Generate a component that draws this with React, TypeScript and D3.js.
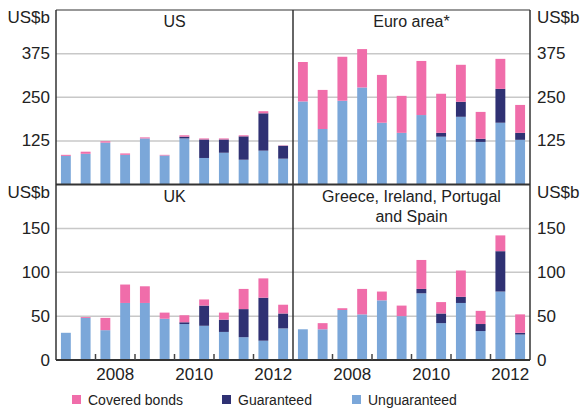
import React from "react"
import * as d3 from "d3"

// half-yearly periods, 2007 H1 to 2012 H2
const periods = [
	"2007 H1", "2007 H2", "2008 H1", "2008 H2", "2009 H1", "2009 H2",
	"2010 H1", "2010 H2", "2011 H1", "2011 H2", "2012 H1", "2012 H2",
]
const yearTicks = ["2008 H1", "2009 H1", "2010 H1", "2011 H1", "2012 H1"]
const yearLabels = ["2008", "2010", "2012"]

const seriesKeys = ["unguaranteed", "guaranteed", "covered"]
const legendKeys = ["covered", "guaranteed", "unguaranteed"]
const legendNames = ["Covered bonds", "Guaranteed", "Unguaranteed"]

// US$b
const usUnguaranteed = [82, 88, 120, 85, 132, 83, 132, 76, 91, 71, 97, 74]
const usGuaranteed = [0, 0, 0, 0, 0, 0, 5, 53, 38, 67, 107, 37]
const usCovered = [3, 6, 4, 4, 3, 2, 4, 3, 3, 3, 6, 1]

const euroUnguaranteed = [238, 159, 240, 278, 177, 148, 199, 137, 194, 122, 177, 128]
const euroGuaranteed = [0, 0, 0, 0, 0, 0, 0, 11, 43, 9, 97, 20]
const euroCovered = [113, 112, 126, 110, 137, 106, 155, 112, 106, 77, 86, 80]

const ukUnguaranteed = [31, 48, 34, 65, 65, 47, 41, 39, 32, 26, 22, 36]
const ukGuaranteed = [0, 0, 0, 0, 0, 0, 2, 23, 14, 32, 49, 17]
const ukCovered = [0, 1, 14, 21, 19, 7, 8, 7, 8, 23, 22, 10]

const gipsUnguaranteed = [35, 35, 57, 52, 68, 50, 76, 42, 65, 33, 78, 29]
const gipsGuaranteed = [0, 0, 0, 0, 0, 0, 5, 11, 7, 8, 46, 2]
const gipsCovered = [0, 7, 2, 29, 10, 12, 33, 13, 30, 15, 18, 21]

const topTicks = [125, 250, 375]
const bottomTicks = [0, 50, 100, 150]

const colours = {
	covered: "#f06daa",
	guaranteed: "#2f3173",
	unguaranteed: "#7ba7d9",
}

const FONT = "'Liberation Sans', Arial, sans-serif"
const W = 580
const H = 410
const xLeft = [56, 293]
const xRight = [293, 530]
const yTop = [10, 184.5]
const yBottom = [184.5, 360]

const toRows = (ung, gua, cov) =>
	periods.map((p, i) => ({ period: p, unguaranteed: ung[i], guaranteed: gua[i], covered: cov[i] }))

const Panel = ({ rows, xr, yr, max, ticks, title }) => {
	const x = d3.scaleBand().domain(periods).range(xr).paddingInner(0.5).paddingOuter(0.25)
	const y = d3.scaleLinear().domain([0, max]).range([yr[1], yr[0]])
	const stacked = d3.stack().keys(seriesKeys)(rows)
	return (
		<g>
			{ticks.filter(t => t > 0).map(t => (
				<line key={t} x1={xr[0]} x2={xr[1]} y1={y(t)} y2={y(t)} stroke="#c8c8c8" strokeWidth={1.5} />
			))}
			{stacked.map(s => (
				<g key={s.key} fill={colours[s.key]}>
					{s.map((d, i) => (
						<rect
							key={i}
							x={x(periods[i])}
							width={x.bandwidth()}
							y={y(d[1])}
							height={Math.max(0, y(d[0]) - y(d[1]))}
						/>
					))}
				</g>
			))}
			{title.map((t, i) => (
				<text
					key={i}
					x={(xr[0] + xr[1]) / 2}
					y={yr[0] + 17 + i * 20}
					textAnchor="middle"
					fontSize={16}
					fill="#222"
				>
					{t}
				</text>
			))}
		</g>
	)
}

const App = () => {
	const xl = d3.scaleBand().domain(periods).range(xLeft).paddingInner(0.5).paddingOuter(0.25)
	const xr = d3.scaleBand().domain(periods).range(xRight).paddingInner(0.5).paddingOuter(0.25)
	const yT = d3.scaleLinear().domain([0, 500]).range([yTop[1], yTop[0]])
	const yB = d3.scaleLinear().domain([0, 200]).range([yBottom[1], yBottom[0]])

	const boundary = (sc, p) => sc(p) - (sc.step() * sc.paddingInner()) / 2
	const yearMid = (sc, yr) => (sc(`${yr} H1`) + sc(`${yr} H2`) + sc.bandwidth()) / 2

	const legendX = [72, 222, 352]

	return (
		<svg
			width={W}
			height={H}
			style={{ position: "absolute", left: 0, top: 0, background: "#fff" }}
			fontFamily={FONT}
		>
			<Panel rows={toRows(usUnguaranteed, usGuaranteed, usCovered)} xr={xLeft} yr={yTop} max={500} ticks={topTicks} title={["US"]} />
			<Panel rows={toRows(euroUnguaranteed, euroGuaranteed, euroCovered)} xr={xRight} yr={yTop} max={500} ticks={topTicks} title={["Euro area*"]} />
			<Panel rows={toRows(ukUnguaranteed, ukGuaranteed, ukCovered)} xr={xLeft} yr={yBottom} max={200} ticks={bottomTicks} title={["UK"]} />
			<Panel
				rows={toRows(gipsUnguaranteed, gipsGuaranteed, gipsCovered)}
				xr={xRight}
				yr={yBottom}
				max={200}
				ticks={bottomTicks}
				title={["Greece, Ireland, Portugal", "and Spain"]}
			/>

			{/* frame */}
			<line x1={xLeft[0]} x2={xRight[1]} y1={yTop[0]} y2={yTop[0]} stroke="#333" strokeWidth={1.2} />
			<line x1={xLeft[0]} x2={xRight[1]} y1={yTop[1]} y2={yTop[1]} stroke="#333" strokeWidth={2} />
			<line x1={xLeft[0]} x2={xRight[1]} y1={yBottom[1]} y2={yBottom[1]} stroke="#333" strokeWidth={2} />
			{[xLeft[0], xLeft[1], xRight[1]].map(v => (
				<line key={v} x1={v} x2={v} y1={yTop[0]} y2={yBottom[1]} stroke="#333" strokeWidth={1.5} />
			))}

			{/* year ticks */}
			{[xl, xr].map((sc, j) =>
				yearTicks.map(p => (
					<line
						key={`${j}-${p}`}
						x1={boundary(sc, p)}
						x2={boundary(sc, p)}
						y1={yBottom[1] - 6}
						y2={yBottom[1]}
						stroke="#444"
						strokeWidth={1.5}
					/>
				)),
			)}
			{[xl, xr].map((sc, j) =>
				yearLabels.map(yr => (
					<text key={`${j}-${yr}`} x={yearMid(sc, yr)} y={380} textAnchor="middle" fontSize={17} fill="#222">
						{yr}
					</text>
				)),
			)}

			{/* y tick labels */}
			{topTicks.map(t => (
				<g key={`t${t}`} fontSize={17} fill="#222" dominantBaseline="central">
					<text x={50} y={yT(t)} textAnchor="end">{t}</text>
					<text x={537} y={yT(t)}>{t}</text>
				</g>
			))}
			{bottomTicks.map(t => (
				<g key={`b${t}`} fontSize={17} fill="#222" dominantBaseline="central">
					<text x={50} y={yB(t)} textAnchor="end">{t}</text>
					<text x={537} y={yB(t)}>{t}</text>
				</g>
			))}
			<g fontSize={17} fill="#222">
				<text x={50} y={23} textAnchor="end">US$b</text>
				<text x={537} y={23}>US$b</text>
				<text x={50} y={198} textAnchor="end">US$b</text>
				<text x={537} y={198}>US$b</text>
			</g>

			{/* legend */}
			{legendKeys.map((k, i) => (
				<g key={k}>
					<rect x={legendX[i]} y={395} width={9} height={9} fill={colours[k]} />
					<text x={legendX[i] + 16} y={405} fontSize={14} fill="#222">
						{legendNames[i]}
					</text>
				</g>
			))}
		</svg>
	)
}

export default App
